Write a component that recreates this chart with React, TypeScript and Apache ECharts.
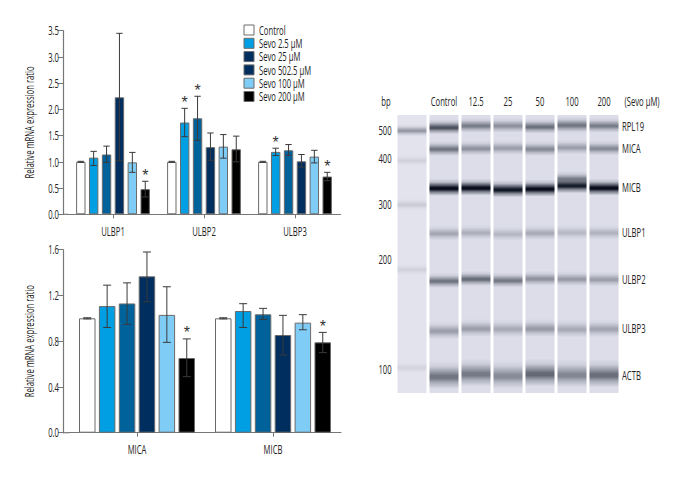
import React, { useEffect, useRef } from "react";
import * as echarts from "echarts";

const FONT = '"Open Sans", "Noto Sans", sans-serif';
const CONDENSE = 0.64;
const seriesNames = ["Control", "Sevo 2.5 µM", "Sevo 25 µM", "Sevo 502.5 µM", "Sevo 100 µM", "Sevo 200 µM"];
const barColors = ["#ffffff", "#009fe3", "#00629b", "#002f5f", "#7fcdf7", "#000000"];
const legendColors = ["#ffffff", "#009fe3", "#002f5f", "#002f5f", "#7fcdf7", "#000000"];

const topCats = ["ULBP1", "ULBP2", "ULBP3"];
const topValues = [
  [1.0, 1.0, 1.0],
  [1.08, 1.75, 1.19],
  [1.14, 1.83, 1.22],
  [2.23, 1.28, 1.01],
  [0.99, 1.29, 1.1],
  [0.48, 1.24, 0.72],
];
const topHigh = [
  [1.01, 1.01, 1.01],
  [1.2, 2.02, 1.26],
  [1.3, 2.25, 1.33],
  [3.45, 1.55, 1.14],
  [1.18, 1.52, 1.22],
  [0.63, 1.49, 0.8],
];
const topLow = [
  [0.99, 0.99, 0.99],
  [0.93, 1.48, 1.12],
  [0.99, 1.41, 1.12],
  [1.02, 1.03, 0.9],
  [0.8, 1.07, 0.98],
  [0.33, 1.0, 0.64],
];
const topStars = [[5, 0], [1, 1], [2, 1], [1, 2], [5, 2]];

const botCats = ["MICA", "MICB"];
const botValues = [
  [1.0, 1.0],
  [1.107, 1.064],
  [1.13, 1.035],
  [1.367, 0.854],
  [1.03, 0.962],
  [0.653, 0.79],
];
const botHigh = [
  [1.005, 1.005],
  [1.29, 1.128],
  [1.31, 1.087],
  [1.58, 1.026],
  [1.276, 1.032],
  [0.82, 0.877],
];
const botLow = [
  [0.995, 0.995],
  [0.92, 0.92],
  [0.947, 0.99],
  [1.145, 0.68],
  [0.79, 0.9],
  [0.49, 0.7],
];
const botStars = [[5, 0], [5, 1]];

const laneLabels = ["", "Control", "12.5", "25", "50", "100", "200"];
const geneNames = ["RPL19", "MICA", "MICB", "ULBP1", "ULBP2", "ULBP3", "ACTB"];
const genePosLabel = [11, 33, 72, 117, 164, 213, 260];
const genePos = [
  [11.7, 10, 10, 11, 9.3, 10],
  [33.3, 32.7, 32.3, 33.3, 31.7, 32.7],
  [72.3, 72, 73.7, 73, 69.7, 72],
  [117.7, 117, 118.3, 117.3, 116.7, 117],
  [165.3, 163.3, 164.7, 163, 163.3, 163.7],
  [215, 212.7, 213, 212.7, 213.3, 213],
  [260, 257.3, 259.3, 257.3, 258.3, 258.3],
];
const geneDark = [
  [0.66, 0.46, 0.36, 0.52, 0.44, 0.46],
  [0.5, 0.36, 0.3, 0.4, 0.3, 0.4],
  [1, 1, 0.95, 1, 0.92, 1],
  [0.26, 0.22, 0.18, 0.24, 0.17, 0.2],
  [0.5, 0.54, 0.48, 0.36, 0.32, 0.3],
  [0.3, 0.3, 0.24, 0.32, 0.24, 0.27],
  [0.5, 0.48, 0.4, 0.56, 0.42, 0.54],
];
const geneHalf = [7.5, 7.5, 8.5, 7.5, 7.5, 9, 14];
const extraLane = [5, 5];
const extraPos = [63, 10];
const extraDark = [0.4, 0.1];
const extraHalf = [7, 10];
const bpLabels = ["500", "400", "300", "200", "100"];
const bpPos = [15, 45, 89, 154, 252];
const bpDark = [0.34, 0.08, 0.11, 0.08, 0.07];
const bpLabelPos = [15, 43, 89, 144, 254];

function errorSeries(xi: number, high: number[][], low: number[][], pitch: number, cap: number) {
  const data: number[][] = [];
  high.forEach((row, s) => row.forEach((h, c) => data.push([c, s, low[s][c], h])));
  return {
    type: "custom",
    xAxisIndex: xi,
    yAxisIndex: xi,
    silent: true,
    clip: false,
    z: 5,
    data,
    encode: { x: 0, y: 3 },
    renderItem: (_: any, api: any) => {
      const top = api.coord([api.value(0), api.value(3)]);
      const bot = api.coord([api.value(0), api.value(2)]);
      const x = top[0] + (api.value(1) - 2.5) * pitch;
      const style = { stroke: "#3a3a3a", lineWidth: 1, fill: "none" };
      return {
        type: "group",
        children: [
          { type: "line", shape: { x1: x, y1: top[1], x2: x, y2: bot[1] }, style },
          { type: "line", shape: { x1: x - cap, y1: top[1], x2: x + cap, y2: top[1] }, style },
          { type: "line", shape: { x1: x - cap, y1: bot[1], x2: x + cap, y2: bot[1] }, style },
        ],
      };
    },
  };
}

function starSeries(xi: number, stars: number[][], high: number[][], pitch: number) {
  return {
    type: "custom",
    xAxisIndex: xi,
    yAxisIndex: xi,
    silent: true,
    clip: false,
    z: 6,
    data: stars.map(([s, c]) => [c, s, high[s][c]]),
    encode: { x: 0, y: 2 },
    renderItem: (_: any, api: any) => {
      const p = api.coord([api.value(0), api.value(2)]);
      return {
        type: "text",
        style: {
          x: p[0] + (api.value(1) - 2.5) * pitch,
          y: p[1] - 6,
          text: "*",
          fill: "#333",
          font: `16px "Liberation Sans", sans-serif`,
          textAlign: "center",
          textVerticalAlign: "middle",
        },
      };
    },
  };
}

function barSeries(xi: number, values: number[][], width: number, gap: string) {
  return values.map((v, s) => ({
    type: "bar",
    name: seriesNames[s],
    xAxisIndex: xi,
    yAxisIndex: xi,
    data: v,
    barWidth: width,
    barGap: gap,
    itemStyle: { color: barColors[s], borderColor: "#6a6a6a", borderWidth: 1 },
  }));
}

function gelData() {
  const rows: number[][] = [];
  genePos.forEach((row, g) =>
    row.forEach((y, l) => rows.push([l + 1, y, geneDark[g][l], geneHalf[g]]))
  );
  bpPos.forEach((y, i) => rows.push([0, y, bpDark[i], 6]));
  extraLane.forEach((l, i) => rows.push([l, extraPos[i], extraDark[i], extraHalf[i]]));
  return rows;
}

const axisLine = { show: true, lineStyle: { color: "#777", width: 1.2 } };
const axisTick = { show: true, length: 5, lineStyle: { color: "#777", width: 1 } };

function xCat(gridIndex: number, data: string[]) {
  return {
    type: "category",
    gridIndex,
    data,
    axisLine,
    axisTick: { ...axisTick, alignWithLabel: true, length: 4 },
    axisLabel: { color: "#222", fontSize: 12, fontFamily: FONT, margin: 11 },
  };
}

function yVal(gridIndex: number, max: number, interval: number, offset: number) {
  return {
    type: "value",
    gridIndex,
    min: 0,
    max,
    interval,
    offset,
    splitLine: { show: false },
    axisLine,
    axisTick,
    name: "Relative mRNA expression ratio",
    nameLocation: "middle",
    nameRotate: 90,
    nameGap: 28,
    nameTextStyle: { color: "#222", fontSize: 12, fontFamily: FONT },
    axisLabel: {
      color: "#222",
      fontSize: 12,
      fontFamily: FONT,
      margin: 4,
      formatter: (v: number) => v.toFixed(1),
    },
  };
}

// No condensed face is installed, so the labels are narrowed horizontally around their anchors.
function condenseTexts(root: HTMLElement, k: number) {
  root.querySelectorAll("text").forEach((t) => {
    if (t.getAttribute("data-cond")) return;
    t.setAttribute("data-cond", "1");
    if (t.textContent === "*") return;
    const attr = t.getAttribute("transform") || "";
    const m = /matrix\(([^)]+)\)/.exec(attr);
    const tr = /translate\(([^)]+)\)/.exec(attr);
    let v = [1, 0, 0, 1, 0, 0];
    if (m) v = m[1].trim().split(/[\s,]+/).map(Number);
    else if (tr) {
      const q = tr[1].trim().split(/[\s,]+/).map(Number);
      v = [1, 0, 0, 1, q[0] || 0, q[1] || 0];
    }
    const x = parseFloat(t.getAttribute("x") || "0");
    t.setAttribute("x", String(x / k));
    t.setAttribute(
      "transform",
      `matrix(${v[0] * k} ${v[1] * k} ${v[2]} ${v[3]} ${v[4]} ${v[5]})`
    );
  });
}

export default function App() {
  const ref = useRef<HTMLDivElement>(null);
  useEffect(() => {
    const chart = echarts.init(ref.current!, undefined, { renderer: "svg" });
    const GT = 115;
    const GH = 278;
    chart.on("finished", () => condenseTexts(ref.current!, CONDENSE));
    chart.setOption({
      animation: false,
      backgroundColor: "#ffffff",
      textStyle: { fontFamily: FONT },
      legend: {
        left: 243.5,
        top: 24,
        padding: 0,
        orient: "vertical",
        selectedMode: false,
        itemWidth: 10,
        itemHeight: 10,
        itemGap: 1.3,
        icon: "rect",
        textStyle: { color: "#222", fontSize: 12, fontFamily: FONT, lineHeight: 12 },
        data: seriesNames.map((name, i) => ({
          name,
          itemStyle: { color: legendColors[i], borderColor: "#6a6a6a", borderWidth: 1 },
        })),
      },
      grid: [
        { left: 67.5, top: 30.7, width: 273, height: 183.6 },
        { left: 69, top: 249.7, width: 272, height: 183 },
        { left: 396, top: GT, width: 224, height: GH },
      ],
      xAxis: [
        xCat(0, topCats),
        xCat(1, botCats),
        {
          type: "category",
          gridIndex: 2,
          position: "top",
          data: laneLabels,
          axisLine: { show: false },
          axisTick: { show: false },
          axisLabel: { color: "#222", fontSize: 12, fontFamily: FONT, margin: 8, interval: 0 },
        },
      ],
      yAxis: [
        yVal(0, 3.5, 0.5, 4.5),
        yVal(1, 1.6, 0.4, 6),
        { type: "value", gridIndex: 2, min: 0, max: GH, inverse: true, show: false },
      ],
      series: [
        ...barSeries(0, topValues, 9.4, "37%"),
        errorSeries(0, topHigh, topLow, 12.9, 3.2),
        starSeries(0, topStars, topHigh, 12.9),
        ...barSeries(1, botValues, 16.5, "20.6%"),
        errorSeries(1, botHigh, botLow, 19.9, 4),
        starSeries(1, botStars, botHigh, 19.9),
        {
          type: "custom",
          xAxisIndex: 2,
          yAxisIndex: 2,
          silent: true,
          data: laneLabels.map((_, i) => [i, 0, GH]),
          encode: { x: 0, y: 2 },
          renderItem: (_: any, api: any) => {
            const a = api.coord([api.value(0), api.value(1)]);
            const b = api.coord([api.value(0), api.value(2)]);
            const ladder = api.value(0) === 0;
            return {
              type: "rect",
              shape: { x: a[0] - 14.5, y: a[1], width: 29, height: b[1] - a[1] },
              style: { fill: ladder ? "#e2e3ed" : "#dcdde9" },
            };
          },
        },
        {
          type: "custom",
          xAxisIndex: 2,
          yAxisIndex: 2,
          silent: true,
          z: 3,
          data: gelData(),
          encode: { x: 0, y: 1 },
          renderItem: (_: any, api: any) => {
            const p = api.coord([api.value(0), api.value(1)]);
            const dark = api.value(2);
            const half = api.value(3);
            const ink = (a: number) => `rgba(8,14,28,${a})`;
            return {
              type: "rect",
              shape: { x: p[0] - 14.5, y: p[1] - half, width: 29, height: half * 2 },
              style: {
                fill: new echarts.graphic.LinearGradient(0, 0, 0, 1, [
                  { offset: 0, color: ink(0) },
                  { offset: 0.2, color: ink(dark * 0.16) },
                  { offset: 0.38, color: ink(dark * 0.62) },
                  { offset: 0.52, color: ink(dark) },
                  { offset: 0.62, color: ink(dark) },
                  { offset: 0.78, color: ink(dark * 0.45) },
                  { offset: 1, color: ink(0) },
                ]),
              },
            };
          },
        },
        {
          type: "custom",
          xAxisIndex: 2,
          yAxisIndex: 2,
          silent: true,
          clip: false,
          data: geneNames.map((n, i) => [6, genePosLabel[i], n]),
          encode: { x: 0, y: 1 },
          renderItem: (_: any, api: any) => {
            const p = api.coord([api.value(0), api.value(1)]);
            return {
              type: "text",
              style: {
                x: p[0] + 18,
                y: p[1],
                text: String(api.value(2)),
                fill: "#222",
                font: `12px ${FONT}`,
                textAlign: "left",
                textVerticalAlign: "middle",
              },
            };
          },
        },
        {
          type: "custom",
          xAxisIndex: 2,
          yAxisIndex: 2,
          silent: true,
          clip: false,
          data: bpLabels.map((n, i) => [0, bpLabelPos[i], n]),
          encode: { x: 0, y: 1 },
          renderItem: (_: any, api: any) => {
            const p = api.coord([api.value(0), api.value(1)]);
            return {
              type: "text",
              style: {
                x: p[0] - 27,
                y: p[1],
                text: String(api.value(2)),
                fill: "#222",
                font: `12px ${FONT}`,
                textAlign: "center",
                textVerticalAlign: "middle",
              },
            };
          },
        },
      ],
      graphic: [
        { type: "line", shape: { x1: 63, y1: 214.3, x2: 68, y2: 214.3 }, style: { stroke: "#777", lineWidth: 1.2 } },
        { type: "line", shape: { x1: 63, y1: 432.7, x2: 69.5, y2: 432.7 }, style: { stroke: "#777", lineWidth: 1.2 } },
        { type: "text", x: 386, y: 101, style: { text: "bp", fill: "#222", font: `12px ${FONT}`, textAlign: "center", textVerticalAlign: "middle" } },
        { type: "text", x: 642, y: 101, style: { text: "(Sevo µM)", fill: "#222", font: `12px ${FONT}`, textAlign: "center", textVerticalAlign: "middle" } },
      ],
    });
    condenseTexts(ref.current!, CONDENSE);
    return () => chart.dispose();
  }, []);
  return <div ref={ref} style={{ position: "absolute", left: 0, top: 0, width: 684, height: 480 }} />;
}
